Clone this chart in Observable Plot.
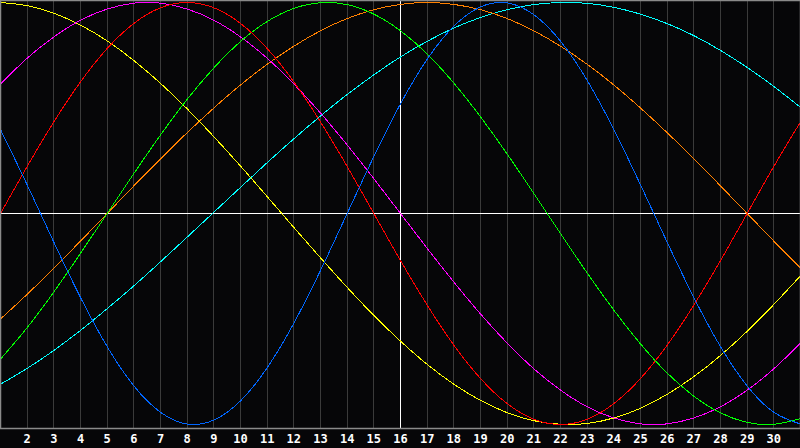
<!DOCTYPE html>
<html>
<head>
<meta charset="utf-8">
<script src="https://cdn.jsdelivr.net/npm/d3@7"></script>
<script src="https://cdn.jsdelivr.net/npm/@observablehq/plot@0.6"></script>
<style>
  html, body { margin: 0; padding: 0; background: #060608; }
  #chart { width: 800px; height: 448px; overflow: hidden; }
</style>
</head>
<body>
<div id="chart"></div>
<script>
const days = [1,2,3,4,5,6,7,8,9,10,11,12,13,14,15,16,17,18,19,20,21,22,23,24,25,26,27,28,29,30,31];
const tickDays = [2,3,4,5,6,7,8,9,10,11,12,13,14,15,16,17,18,19,20,21,22,23,24,25,26,27,28,29,30];
const today = 16;

const physical     = [0.398,0.136,-0.136,-0.398,-0.631,-0.817,-0.942,-0.998,-0.979,-0.888,-0.731,-0.520,-0.270,0.000,0.270,0.520,0.731,0.888,0.979,0.998,0.942,0.817,0.631,0.398,0.136,-0.136,-0.398,-0.631,-0.817,-0.942,-0.998];
const emotional    = [0.000,0.223,0.434,0.624,0.782,0.901,0.975,1.000,0.975,0.901,0.782,0.624,0.434,0.223,0.000,-0.223,-0.434,-0.624,-0.782,-0.901,-0.975,-1.000,-0.975,-0.901,-0.782,-0.624,-0.434,-0.223,0.000,0.223,0.434];
const intellectual = [-0.690,-0.541,-0.372,-0.189,0.000,0.189,0.372,0.541,0.690,0.815,0.910,0.972,0.999,0.990,0.945,0.866,0.756,0.618,0.458,0.282,0.095,-0.095,-0.282,-0.458,-0.618,-0.756,-0.866,-0.945,-0.990,-0.999,-0.972];
const intuitive    = [0.614,0.736,0.837,0.916,0.969,0.997,0.997,0.969,0.916,0.837,0.736,0.614,0.476,0.325,0.165,0.000,-0.165,-0.325,-0.476,-0.614,-0.736,-0.837,-0.916,-0.969,-0.997,-0.997,-0.969,-0.916,-0.837,-0.736,-0.614];
const aesthetic    = [1.000,0.985,0.949,0.893,0.818,0.725,0.617,0.496,0.364,0.225,0.080,-0.066,-0.210,-0.350,-0.483,-0.605,-0.715,-0.809,-0.886,-0.944,-0.982,-0.999,-0.995,-0.969,-0.923,-0.857,-0.773,-0.673,-0.558,-0.431,-0.295];
const awareness    = [-0.500,-0.383,-0.259,-0.131,0.000,0.131,0.259,0.383,0.500,0.609,0.707,0.793,0.866,0.924,0.966,0.991,1.000,0.991,0.966,0.924,0.866,0.793,0.707,0.609,0.500,0.383,0.259,0.131,0.000,-0.131,-0.259];
const spiritual    = [-0.809,-0.734,-0.649,-0.554,-0.451,-0.343,-0.229,-0.112,0.006,0.124,0.241,0.354,0.462,0.564,0.657,0.742,0.816,0.879,0.929,0.966,0.990,1.000,0.996,0.977,0.945,0.900,0.843,0.773,0.692,0.602,0.503];

const seriesNames  = ["spiritual","awareness","aesthetic","intuitive","intellectual","emotional","physical"];
const seriesValues = [spiritual, awareness, aesthetic, intuitive, intellectual, emotional, physical];
const seriesColors = ["#00ffff","#ff8000","#ffff00","#ff00ff","#00ff00","#ff0000","#0066ff"];

const lineMarks = seriesNames.map((name, i) =>
  Plot.line(days.map((d, j) => ({day: d, v: seriesValues[i][j]})), {
    x: "day", y: "v", curve: "natural",
    stroke: seriesColors[i], strokeWidth: 1,
    shapeRendering: "crispEdges"
  })
);

const chart = Plot.plot({
  width: 800,
  height: 448,
  marginLeft: 0,
  marginRight: 0,
  marginTop: 0,
  marginBottom: 20,
  style: {background: "#060608", color: "#ffffff", overflow: "hidden"},
  x: {domain: [1, 31], axis: null},
  y: {domain: [-1, 1], axis: null, insetTop: 2, insetBottom: 4},
  marks: [
    Plot.ruleX(tickDays, {stroke: "#3a3a3a", strokeWidth: 1, y1: -1.02, y2: 1.03, shapeRendering: "crispEdges"}),
    Plot.ruleY([0], {stroke: "#ffffff", strokeWidth: 1, shapeRendering: "crispEdges"}),
    Plot.ruleX([today], {stroke: "#ffffff", strokeWidth: 1, shapeRendering: "crispEdges"}),
    ...lineMarks,
    Plot.frame({stroke: "#8a8a8a", strokeWidth: 1.5}),
    Plot.axisX(tickDays, {
      tickSize: 0, tickPadding: 6, fill: "#ffffff",
      fontFamily: "DejaVu Sans Mono", fontWeight: "bold", fontSize: 12,
      tickFormat: d => String(d), label: null
    })
  ]
});
document.getElementById("chart").appendChild(chart);
</script>
</body>
</html>
